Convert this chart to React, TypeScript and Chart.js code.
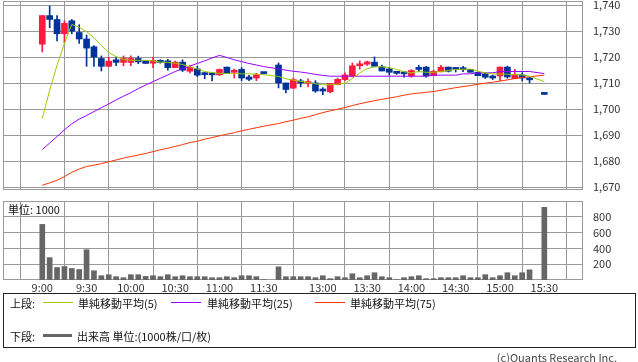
import React, { useEffect, useRef } from "react";
import { Chart, registerables } from "chart.js";
Chart.register(...registerables);

const FONT = "'Noto Sans CJK JP', 'Noto Sans', sans-serif";

const times = [
  "9:00","9:05","9:10","9:15","9:20","9:25","9:30","9:35","9:40","9:45",
  "9:50","9:55","10:00","10:05","10:10","10:15","10:20","10:25","10:30","10:35",
  "10:40","10:45","10:50","10:55","11:00","11:05","11:10","11:15","11:20","11:25","11:30",
  "12:30","12:35","12:40","12:45","12:50","12:55","13:00","13:05","13:10","13:15",
  "13:20","13:25","13:30","13:35","13:40","13:45","13:50","13:55","14:00","14:05",
  "14:10","14:15","14:20","14:25","14:30","14:35","14:40","14:45","14:50","14:55",
  "15:00","15:05","15:10","15:15","15:20","15:30",
];

const openP = [
  1725,1736,1734.5,1729,1734,1729.5,1727,1724,1719.5,1716.5,
  1719,1718,1718,1719.5,1718.6,1717.7,1718.5,1718.6,1716,1718.1,
  1714.6,1715.5,1713.3,1713.2,1713.2,1716.2,1714.2,1715.3,1712.4,1712,1713.7,
  1717,1710.1,1708.1,1710.8,1709.9,1710.1,1707,1706.7,1709.4,1711.4,
  1712.7,1716.7,1717.3,1718.1,1716.3,1715.5,1713.8,1713.6,1712.8,1715.3,
  1716.2,1712.9,1714.4,1716.2,1715.3,1715.2,1715.3,1714.2,1713.6,1712,
  1712.8,1716.2,1711.8,1713.2,1711.9,1705.7,
];
const highP = [
  1736,1739.7,1736,1734,1734.5,1732.5,1728.5,1724.5,1720.5,1720,
  1720,1720.5,1720.5,1720.4,1718.6,1720,1719,1719.2,1718.5,1719,
  1716.8,1716.5,1714.1,1714.1,1715.5,1716.2,1715.4,1716,1713,1713.8,1713.7,
  1717.8,1710.1,1712,1711.5,1711.7,1711,1708.3,1709.9,1712,1714,
  1717.8,1718.6,1718.5,1720.1,1717,1716,1714.3,1714.5,1715.2,1716.9,
  1716.5,1715,1716.9,1716.2,1715.8,1716.5,1715.3,1714.2,1714,1713.2,
  1716.2,1716.6,1715.3,1714,1712.2,1705.7,
];
const lowP = [
  1722,1731.3,1726.3,1725.5,1729,1725.3,1716.5,1716.5,1714.7,1716.3,
  1716.7,1716.7,1716.7,1717.5,1717.6,1716,1717.7,1715,1716,1714.5,
  1714,1712.5,1711.7,1710.9,1713,1713.7,1712,1711,1711,1711,1713.7,
  1708.2,1706.3,1708,1708.6,1708.6,1706.5,1705.6,1706.3,1709.4,1711,
  1712.4,1715.4,1716.8,1716.3,1714.7,1713.2,1713.4,1712.3,1712.3,1714.4,
  1712.3,1712.9,1714.3,1714.3,1714.3,1714.4,1714.2,1712.9,1711.8,1711.4,
  1711,1711.9,1711.8,1710.9,1710.1,1705.7,
];
const closeP = [
  1736,1734.5,1729,1733,1730,1727,1723.5,1720,1716.5,1718.5,
  1718,1719.5,1719.5,1718.2,1717.6,1718.8,1718,1716,1718.1,1715,
  1716.2,1713.1,1713.3,1713.2,1715.3,1713.7,1715,1712,1711.5,1713.3,1713.7,
  1710.1,1707.6,1711.4,1710.1,1710.5,1707,1707,1709.9,1711.5,1713.2,
  1716.7,1717.4,1718.2,1716.5,1714.7,1714.2,1713.8,1713.6,1714.9,1715.3,
  1712.8,1714.6,1716.2,1714.6,1715.3,1715.2,1714.2,1712.9,1712.3,1712,
  1716.2,1712.4,1713.2,1712,1711.3,1705.7,
];
const volume = [
  704,283,158,171,146,133,383,117,54,67,
  42,29,67,67,46,54,42,67,42,54,
  42,42,42,29,29,42,29,54,54,42,4,
  167,42,42,42,42,29,54,17,42,29,
  79,29,54,92,42,29,4,29,42,54,
  17,17,29,29,29,54,29,29,67,29,
  54,92,54,92,129,920,
];
const ma5 = [
  1696.4,1707.3,1716.9,1725.4,1732.6,1731.5,1729.8,1727.5,1724.5,1721.8,
  1720.2,1719.1,1718.8,1718.8,1718.8,1718.6,1718.1,1718.0,1717.7,1717.2,
  1716.3,1715.5,1714.5,1714.1,1713.8,1713.7,1713.7,1713.6,1713.6,1713.5,1713.3,
  1712.6,1711.7,1711.2,1710.7,1710.3,1709.8,1709.4,1709.4,1709.6,1710.0,
  1711.8,1714.0,1715.6,1716.3,1716.3,1716.0,1715.3,1714.4,1714.0,1714.5,
  1714.2,1714.2,1714.5,1714.9,1715.3,1715.4,1715.4,1714.6,1714.0,1713.6,
  1713.5,1713.5,1713.3,1713.2,1712.7,1710.6,
];
const ma25 = [
  1684.5,1687.0,1689.5,1692.1,1694.4,1696.2,1697.6,1699.1,1700.6,1702.0,
  1703.6,1705.0,1706.4,1707.9,1709.3,1710.6,1711.9,1713.2,1714.5,1715.6,
  1716.6,1717.6,1718.6,1719.7,1720.7,1719.9,1719.0,1718.3,1717.6,1717.0,1716.4,
  1715.5,1715.0,1714.6,1714.3,1713.9,1713.4,1713.0,1712.7,1712.7,1712.7,
  1712.7,1712.7,1712.7,1712.7,1712.7,1712.7,1712.7,1712.7,1712.7,1712.7,
  1712.7,1713.1,1713.1,1713.1,1713.1,1713.6,1713.6,1714.0,1714.0,1714.0,
  1714.5,1714.5,1714.5,1714.5,1714.5,1713.7,
];
const ma75 = [
  1670.8,1671.7,1672.7,1674.1,1675.8,1677.0,1678.0,1678.5,1679.1,1679.8,
  1680.5,1681.2,1681.8,1682.4,1683.0,1683.7,1684.4,1685.0,1685.7,1686.4,
  1687.2,1687.7,1688.5,1689.1,1689.8,1690.4,1691.0,1691.7,1692.3,1692.9,1693.5,
  1694.5,1695.2,1695.8,1696.5,1697.1,1697.9,1698.7,1699.4,1700.0,1700.7,
  1701.4,1702.1,1702.7,1703.3,1703.8,1704.3,1704.8,1705.4,1705.9,1706.2,
  1706.5,1706.8,1707.3,1707.8,1708.3,1708.7,1709.1,1709.6,1710.0,1710.4,
  1710.8,1711.3,1711.8,1712.2,1712.5,1713.1,
];

const axisTimes = ["9:00","9:30","10:00","10:30","11:00","11:30","13:00","13:30","14:00","14:30","15:00","15:30"];
const priceTicks = [1670, 1680, 1690, 1700, 1710, 1720, 1730, 1740];
const volumeTicks = [200, 400, 600, 800];

const UP = "#ff1a40";
const DOWN = "#003399";
const GRID = "#999999";

// position of a time on the x axis (5-minute slots, lunch break compressed)
const slotOf = (t: string) => {
  const [h, m] = t.split(":").map(Number);
  const mins = h * 60 + m;
  return mins < 12 * 60 ? (mins - 540) / 5 : (mins - 750) / 5 + 32;
};
const labelOfSlot = (v: number) => {
  const f = axisTimes.find((t) => slotOf(t) === v);
  return f || "";
};

const X_MIN = -5.32;
const X_MAX = 73.24;

const framePlugin = {
  id: "frame",
  beforeDatasetsDraw(chart: any) {
    const { ctx, chartArea } = chart;
    ctx.save();
    ctx.strokeStyle = GRID;
    ctx.lineWidth = 1;
    ctx.strokeRect(
      Math.round(chartArea.left) + 0.5,
      Math.round(chartArea.top) + 0.5,
      Math.round(chartArea.right - chartArea.left) - 1,
      Math.round(chartArea.bottom - chartArea.top) - 1
    );
    ctx.restore();
  },
};

export default function App() {
  const topRef = useRef<HTMLCanvasElement>(null);
  const volRef = useRef<HTMLCanvasElement>(null);

  useEffect(() => {
    const colors = times.map((_, i) => (closeP[i] > openP[i] ? UP : DOWN));
    const line = (arr: number[], color: string) => ({
      type: "line" as const,
      data: times.map((t, i) => ({ x: slotOf(t), y: arr[i] })),
      borderColor: color,
      borderWidth: 1,
      pointRadius: 0,
      fill: false,
      tension: 0,
      order: 0,
    });

    const top = new Chart(topRef.current!, {
      type: "bar",
      data: {
        datasets: [
          line(ma5, "#99cc00"),
          line(ma25, "#9900ff"),
          line(ma75, "#ff3300"),
          {
            type: "bar",
            data: times.map((t, i) => ({ x: slotOf(t), y: [openP[i], closeP[i]] })) as any,
            backgroundColor: colors,
            barThickness: 6,
            minBarLength: 2,
            grouped: false,
            order: 1,
          } as any,
          {
            type: "bar",
            data: times.map((t, i) => ({ x: slotOf(t), y: [lowP[i], highP[i]] })) as any,
            backgroundColor: colors,
            barThickness: 1,
            grouped: false,
            order: 2,
          } as any,
        ],
      },
      options: {
        animation: false,
        responsive: false,
        maintainAspectRatio: false,
        layout: { padding: { left: 3, top: 1, right: 0, bottom: 5 } },
        plugins: { legend: { display: false }, tooltip: { enabled: false } },
        scales: {
          x: {
            type: "linear",
            min: X_MIN,
            max: X_MAX,
            offset: false,
            grid: { color: GRID, drawTicks: false },
            border: { display: false },
            ticks: { display: false },
            afterBuildTicks: (s: any) => {
              s.ticks = axisTimes.map((t) => ({ value: slotOf(t) }));
            },
            afterFit: (s: any) => {
              s.height = 0;
              s.paddingLeft = 0;
              s.paddingRight = 0;
            },
          },
          y: {
            type: "linear",
            position: "right",
            min: 1668.96,
            max: 1741.6,
            grid: { color: GRID, drawTicks: false },
            border: { display: false },
            ticks: {
              padding: 10,
              color: "#333",
              font: { family: FONT, size: 11 },
              callback: (v: any) => Number(v).toLocaleString("en-US"),
            },
            afterBuildTicks: (s: any) => {
              s.ticks = priceTicks.map((v) => ({ value: v }));
            },
            afterFit: (s: any) => {
              s.width = 55;
              s.paddingTop = 0;
              s.paddingBottom = 0;
            },
          },
        },
      } as any,
      plugins: [framePlugin],
    });

    const vol = new Chart(volRef.current!, {
      type: "bar",
      data: {
        datasets: [
          {
            data: times.map((t, i) => ({ x: slotOf(t), y: volume[i] })) as any,
            backgroundColor: "#666666",
            barThickness: 5,
            grouped: false,
          } as any,
        ],
      },
      options: {
        animation: false,
        responsive: false,
        maintainAspectRatio: false,
        layout: { padding: { left: 3, top: 6, right: 0, bottom: 0 } },
        plugins: { legend: { display: false }, tooltip: { enabled: false } },
        scales: {
          x: {
            type: "linear",
            min: X_MIN,
            max: X_MAX,
            offset: false,
            grid: { color: GRID, drawTicks: false },
            border: { display: false },
            ticks: {
              padding: 1,
              autoSkip: false,
              maxRotation: 0,
              color: "#333",
              font: { family: FONT, size: 11 },
              callback: (v: any) => labelOfSlot(Number(v)),
            },
            afterBuildTicks: (s: any) => {
              s.ticks = axisTimes.map((t) => ({ value: slotOf(t) }));
            },
            afterFit: (s: any) => {
              s.height = 15;
              s.paddingLeft = 0;
              s.paddingRight = 0;
            },
          },
          y: {
            type: "linear",
            position: "right",
            min: 0,
            max: 1000,
            grid: { color: GRID, drawTicks: false },
            border: { display: false },
            ticks: {
              padding: 10,
              color: "#333",
              font: { family: FONT, size: 11 },
            },
            afterBuildTicks: (s: any) => {
              s.ticks = volumeTicks.map((v) => ({ value: v }));
            },
            afterFit: (s: any) => {
              s.width = 55;
              s.paddingTop = 0;
              s.paddingBottom = 0;
            },
          },
        },
      } as any,
      plugins: [framePlugin],
    });

    return () => {
      top.destroy();
      vol.destroy();
    };
  }, []);

  const txt: React.CSSProperties = {
    position: "absolute",
    fontFamily: FONT,
    fontSize: 11,
    lineHeight: "14px",
    color: "#111",
    whiteSpace: "nowrap",
  };
  const seg = (left: number, top: number, width: number, color: string, h = 1): React.CSSProperties => ({
    position: "absolute",
    left,
    top,
    width,
    height: h,
    background: color,
  });

  return (
    <div style={{ position: "absolute", left: 0, top: 0, width: 638, height: 362, background: "#fff", overflow: "hidden" }}>
      <canvas ref={topRef} width={638} height={195} style={{ position: "absolute", left: 0, top: 0, width: 638, height: 195 }} />
      <canvas ref={volRef} width={638} height={100} style={{ position: "absolute", left: 0, top: 195, width: 638, height: 100 }} />
      <div style={{ ...txt, left: 8, top: 202 }}>単位: 1000</div>

      <div style={{ position: "absolute", left: 3, top: 293, width: 631, height: 53, border: "1px solid #222" }} />
      <div style={{ ...txt, left: 10, top: 296 }}>上段:</div>
      <div style={seg(43, 302, 30, "#99cc00")} />
      <div style={{ ...txt, left: 78, top: 296 }}>単純移動平均(5)</div>
      <div style={seg(171, 302, 30, "#9900ff")} />
      <div style={{ ...txt, left: 207, top: 296 }}>単純移動平均(25)</div>
      <div style={seg(315, 302, 30, "#ff3300")} />
      <div style={{ ...txt, left: 350, top: 296 }}>単純移動平均(75)</div>

      <div style={{ ...txt, left: 10, top: 329 }}>下段:</div>
      <div style={seg(43, 334, 29, "#666666", 3)} />
      <div style={{ ...txt, left: 77, top: 329 }}>出来高 単位:(1000株/口/枚)</div>

      <div style={{ ...txt, right: 21, top: 350, color: "#444" }}>(c)Quants Research Inc.</div>
    </div>
  );
}
